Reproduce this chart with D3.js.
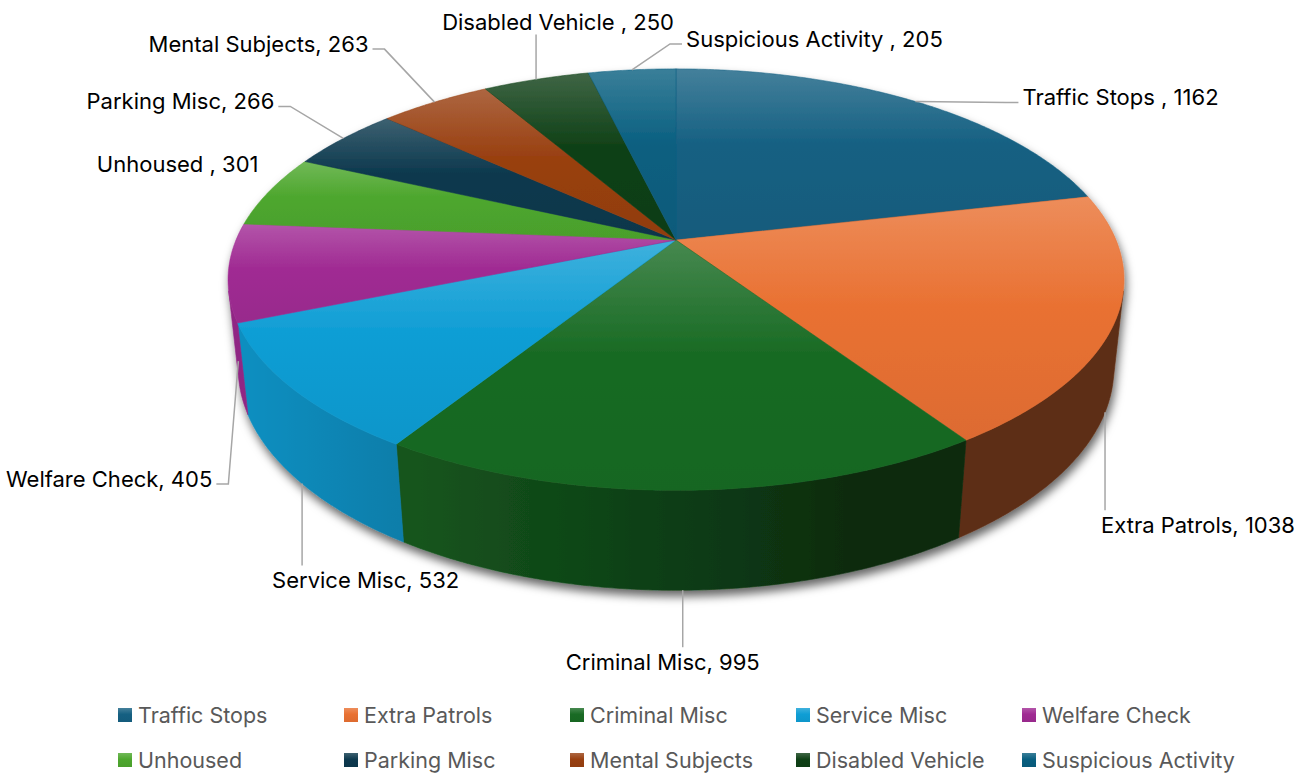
<!DOCTYPE html>
<html>
<head>
<meta charset="utf-8">
<script src="https://cdn.jsdelivr.net/npm/d3@7"></script>
<style>
  body { margin: 0; background: #fff; }
  .piechart text { font-family: Inter, "Open Sans", sans-serif; }
</style>
</head>
<body>
<div class="piechart"></div>
<script>
// data
const categories = ["Traffic Stops ", "Extra Patrols", "Criminal Misc", "Service Misc", "Welfare Check",
                    "Unhoused ", "Parking Misc", "Mental Subjects", "Disabled Vehicle ", "Suspicious Activity "];
const values = [1162, 1038, 995, 532, 405, 301, 266, 263, 250, 205];

// Office theme accents, then the same accents at 60% luminance
const colors = ["#156082", "#E97132", "#196B24", "#0F9ED5", "#A02B93",
                "#4EA72E", "#0D394E", "#994011", "#0F4016", "#095F80"];

// label placement relative to the slice anchor: [dx, dy, text-anchor, leader]
const labelPos = [
    [107, -4, "start", "h"],
    [-4, 113, "start", "v"],
    [-20, 72, "middle", "v"],
    [-30, 97, "start", "v"],
    [-26, 118, "end", "h"],
    [-11, -27, "end", "none"],
    [-69, -37, "end", "h"],
    [-66, -58, "end", "h"],
    [22, -57, "middle", "v"],
    [54, -31, "start", "h"]
];

const width = 1311, height = 773;
const svg = d3.select(".piechart").append("svg")
    .attr("width", width)
    .attr("height", height);

// 3d view settings
const cx = 676, cy = 240, R = 440;
const sinT = 0.462, cosT = Math.sqrt(1 - sinT * sinT);
const persp = 4.72;     // camera distance, in radii
const depth = 0.228;    // pie thickness, in radii

function project(phi, Y, r) {
    if (r === undefined) r = 1;
    const X = r * Math.sin(phi), Z = r * Math.cos(phi);
    const yp = Y * cosT + Z * sinT;
    const zp = -Y * sinT + Z * cosT;
    const s = persp / (persp + zp);
    return [cx + R * X * s, cy - R * yp * s];
}

function arcPoints(a0, a1, Y) {
    const n = Math.max(2, Math.ceil((a1 - a0) / (Math.PI / 360)));
    return d3.range(n + 1).map(i => project(a0 + (a1 - a0) * i / n, Y));
}

// light coming from the front left
function shade(phi) {
    return 0.4 + 0.5 * Math.max(0, Math.cos(phi - 250 * Math.PI / 180));
}
function scaleColor(c, k) {
    const rgb = d3.rgb(c);
    return d3.rgb(rgb.r * k, rgb.g * k, rgb.b * k).formatHex();
}

const pie = d3.pie().sort(null).value(d => d).startAngle(0).endAngle(2 * Math.PI);
const arcs = pie(values);

const defs = svg.append("defs");

// drop shadow under the pie
const filter = defs.append("filter")
    .attr("id", "shadow")
    .attr("x", "-10%").attr("y", "-10%")
    .attr("width", "120%").attr("height", "130%");
filter.append("feDropShadow")
    .attr("dx", 2).attr("dy", 6)
    .attr("stdDeviation", 5)
    .attr("flood-color", "#000")
    .attr("flood-opacity", 0.6);

// top face gradients, lighter at the top
colors.forEach(function(c, i) {
    const g = defs.append("linearGradient")
        .attr("id", "top-" + i)
        .attr("x1", "0%").attr("y1", "0%")
        .attr("x2", "0%").attr("y2", "100%");
    g.append("stop").attr("offset", "0%").attr("stop-color", d3.interpolateRgb(c, "#fff")(0.2));
    g.append("stop").attr("offset", "45%").attr("stop-color", c);
    g.append("stop").attr("offset", "100%").attr("stop-color", scaleColor(c, 0.95));
});

const pieG = svg.append("g").attr("filter", "url(#shadow)");

// outer walls, only the part facing the camera
const visStart = Math.acos(-1 / (persp * cosT));
const visEnd = 2 * Math.PI - visStart;
const line = d3.line();

arcs.forEach(function(d, i) {
    const a0 = Math.max(d.startAngle, visStart);
    const a1 = Math.min(d.endAngle, visEnd);
    if (a1 <= a0) return;
    const top = arcPoints(a0, a1, 0);
    const bottom = arcPoints(a0, a1, -depth).reverse();
    const xs = top.concat(bottom).map(p => p[0]);
    const x1 = d3.min(xs), x2 = d3.max(xs);

    const g = defs.append("linearGradient")
        .attr("id", "wall-" + i)
        .attr("gradientUnits", "userSpaceOnUse")
        .attr("x1", x1).attr("y1", 0)
        .attr("x2", x2).attr("y2", 0);
    const n = 24;
    const stops = d3.range(n + 1).map(function(k) {
        const phi = a0 + (a1 - a0) * k / n;
        const p = project(phi, -depth / 2);
        return {off: (p[0] - x1) / (x2 - x1), col: scaleColor(colors[i], shade(phi))};
    }).sort((a, b) => a.off - b.off);
    stops.forEach(function(s) {
        g.append("stop")
            .attr("offset", Math.max(0, Math.min(1, s.off)))
            .attr("stop-color", s.col);
    });

    pieG.append("path")
        .attr("d", line(top.concat(bottom)) + "Z")
        .style("fill", "url(#wall-" + i + ")")
        .style("stroke", "url(#wall-" + i + ")")
        .style("stroke-width", 0.6);
});

// top faces
pieG.selectAll(".slice")
    .data(arcs)
    .enter().append("path")
    .attr("class", "slice")
    .attr("d", function(d) {
        return line([[cx, cy]].concat(arcPoints(d.startAngle, d.endAngle, 0))) + "Z";
    })
    .style("fill", (d, i) => "url(#top-" + i + ")")
    .style("stroke", (d, i) => colors[i])
    .style("stroke-width", 0.5);

// data labels with leader lines
const labelG = svg.append("g");
arcs.forEach(function(d, i) {
    const mid = (d.startAngle + d.endAngle) / 2;
    const A = project(mid, Math.cos(mid) < 0 ? -depth : 0);
    const lp = labelPos[i];
    const tx = A[0] + lp[0], ty = A[1] + lp[1];
    let pts = null;
    if (lp[3] === "h") {
        const dir = lp[2] === "start" ? 1 : -1;
        pts = [A, [tx - dir * 16, ty + 5], [tx - dir * 4, ty + 5]];
    } else if (lp[3] === "v") {
        pts = [A, [A[0], lp[1] > 0 ? ty - 15 : ty + 12]];
    }
    if (pts) {
        labelG.append("path")
            .attr("d", line(pts))
            .style("fill", "none")
            .style("stroke", "#A6A6A6")
            .style("stroke-width", 1.5);
    }
    labelG.append("text")
        .attr("x", tx)
        .attr("y", ty)
        .attr("dy", "0.35em")
        .attr("text-anchor", lp[2])
        .style("font-size", "22px")
        .style("fill", "#000")
        .text(categories[i] + ", " + values[i]);
});

// legend
const legend = svg.append("g")
    .selectAll("g")
    .data(categories)
    .enter().append("g")
    .attr("transform", (d, i) => "translate(" + (118 + (i % 5) * 226) + "," + (715 + Math.floor(i / 5) * 45) + ")");

legend.append("rect")
    .attr("x", 0).attr("y", -7)
    .attr("width", 14).attr("height", 14)
    .style("fill", (d, i) => "url(#top-" + i + ")");

legend.append("text")
    .attr("x", 20)
    .attr("y", 0)
    .attr("dy", "0.35em")
    .style("font-size", "21.5px")
    .style("fill", "#595959")
    .text(d => d);
</script>
</body>
</html>
